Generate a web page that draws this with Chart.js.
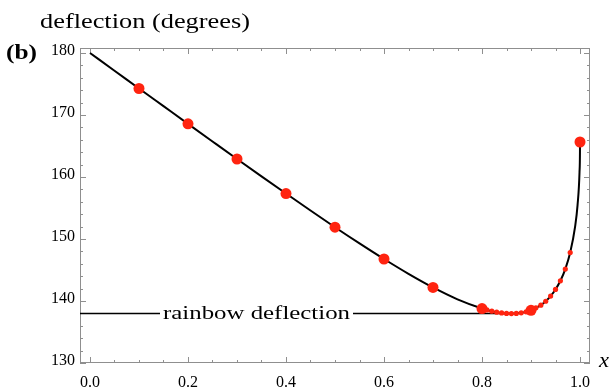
<!DOCTYPE html>
<html>
<head>
<meta charset="utf-8">
<script src="https://cdn.jsdelivr.net/npm/chart.js@4.4.1/dist/chart.umd.min.js"></script>
<style>
  html, body { margin: 0; padding: 0; background: #ffffff; }
  #wrap { width: 610px; height: 390px; }
</style>
</head>
<body>
<div id="wrap"><canvas id="chart" width="610" height="390"></canvas></div>
<script>
// deflection curve
const curveX = [0, 0.05, 0.1, 0.15, 0.2, 0.25, 0.3, 0.35, 0.4, 0.45, 0.5, 0.55, 0.6, 0.65, 0.7, 0.75,
  0.8, 0.81, 0.82, 0.83, 0.84, 0.85, 0.86, 0.87, 0.88, 0.89, 0.9, 0.91, 0.92, 0.93, 0.94, 0.95,
  0.96, 0.97, 0.98, 0.99, 0.995, 0.999, 0.9999, 1.0];
const curveY = [180, 177.14, 174.27, 171.42, 168.57, 165.73, 162.90, 160.10, 157.33, 154.59, 151.90, 149.29, 146.77, 144.38, 142.18, 140.26,
  138.78, 138.56, 138.36, 138.20, 138.08, 138.00, 137.97, 138.00, 138.09, 138.25, 138.50, 138.90, 139.33, 139.96, 140.79, 141.86,
  143.26, 145.15, 147.81, 152.00, 155.47, 160.77, 164.04, 165.64];

// big red dots
const bigX = [0.1, 0.2, 0.3, 0.4, 0.5, 0.6, 0.7, 0.8, 0.9, 1.0];
const bigY = [174.27, 168.57, 162.90, 157.33, 151.90, 146.77, 142.18, 138.78, 138.50, 165.64];

// small red dots near the minimum
const smallX = [0.81, 0.82, 0.83, 0.84, 0.85, 0.86, 0.87, 0.88, 0.89, 0.91, 0.92, 0.93, 0.94, 0.95, 0.96, 0.97, 0.98];
const smallY = [138.56, 138.36, 138.20, 138.08, 138.00, 137.97, 138.00, 138.09, 138.25, 138.90, 139.33, 139.96, 140.79, 141.86, 143.26, 145.15, 147.81];

// rainbow deflection line
const rainbowX = [-0.0204, 0.86];
const rainbowY = [137.97, 137.97];

const xTicks = [0, 0.2, 0.4, 0.6, 0.8, 1.0];
const yTicks = [130, 140, 150, 160, 170, 180];

const SERIF = "'Times New Roman', 'Liberation Serif', 'DejaVu Serif', serif";
const RED = "#ff2410";
const FRAME = "#8f8f8f";

function zip(xs, ys) {
  return xs.map((x, i) => ({ x: x, y: ys[i] }));
}

// text squeezed/stretched to a given width
function stretchText(ctx, text, font, x, y, width) {
  ctx.save();
  ctx.font = font;
  ctx.textAlign = "left";
  ctx.textBaseline = "alphabetic";
  const w = ctx.measureText(text).width;
  ctx.translate(x, y);
  ctx.scale(width / w, 1);
  ctx.fillText(text, 0, 0);
  ctx.restore();
}

const framePlugin = {
  id: "frame",
  beforeDatasetsDraw(chart) {
    const { ctx, chartArea: a, scales: { x, y } } = chart;
    ctx.save();
    ctx.strokeStyle = FRAME;
    ctx.lineWidth = 1;
    ctx.strokeRect(a.left + 0.5, a.top + 0.5, a.right - a.left - 1, a.bottom - a.top - 1);
    ctx.beginPath();
    // x ticks, every 0.05, longer on the labelled ones
    for (let i = 0; i <= 20; i++) {
      const v = i * 0.05;
      const px = Math.round(x.getPixelForValue(v)) + 0.5;
      const len = i % 4 === 0 ? 6 : 3;
      ctx.moveTo(px, a.bottom);
      ctx.lineTo(px, a.bottom - len);
      ctx.moveTo(px, a.top);
      ctx.lineTo(px, a.top + len);
    }
    // y ticks, every 2
    for (let v = 130; v <= 180; v += 2) {
      const py = Math.round(y.getPixelForValue(v)) + 0.5;
      const len = v % 10 === 0 ? 6 : 3;
      ctx.moveTo(a.left, py);
      ctx.lineTo(a.left + len, py);
      ctx.moveTo(a.right, py);
      ctx.lineTo(a.right - len, py);
    }
    ctx.stroke();
    ctx.restore();
  },
  afterDatasetsDraw(chart) {
    const { ctx, scales: { y } } = chart;
    ctx.save();
    // label sitting on the rainbow line
    const ly = y.getPixelForValue(rainbowY[0]);
    ctx.fillStyle = "#ffffff";
    ctx.fillRect(160, ly - 12, 193, 22);
    ctx.fillStyle = "#000000";
    stretchText(ctx, "rainbow deflection", "19px " + SERIF, 163, ly + 5, 187);
    ctx.restore();
  },
  afterDraw(chart) {
    const { ctx } = chart;
    ctx.save();
    ctx.fillStyle = "#000000";
    stretchText(ctx, "deflection (degrees)", "20px " + SERIF, 40, 28, 210);
    stretchText(ctx, "(b)", "bold 21px " + SERIF, 6, 59, 31);
    stretchText(ctx, "x", "italic 20px " + SERIF, 599, 367, 10);
    ctx.restore();
  }
};

const ctx = document.getElementById("chart").getContext("2d");

const chart = new Chart(ctx, {
  type: "scatter",
  data: {
    datasets: [
      {
        type: "scatter",
        data: zip(bigX, bigY),
        pointRadius: 5.5,
        pointBackgroundColor: RED,
        pointBorderWidth: 0,
        order: 1,
      },
      {
        type: "scatter",
        data: zip(smallX, smallY),
        pointRadius: 2.6,
        pointBackgroundColor: RED,
        pointBorderWidth: 0,
        order: 1,
      },
      {
        type: "line",
        data: zip(curveX, curveY),
        borderColor: "#000000",
        borderWidth: 2,
        pointRadius: 0,
        cubicInterpolationMode: "monotone",
        fill: false,
        order: 2,
      },
      {
        type: "line",
        data: zip(rainbowX, rainbowY),
        borderColor: "#000000",
        borderWidth: 1.5,
        pointRadius: 0,
        fill: false,
        order: 3,
      },
    ],
  },
  options: {
    responsive: false,
    animation: false,
    clip: false,
    layout: { padding: { left: 0, right: 20, top: 48, bottom: 0 } },
    plugins: {
      legend: { display: false },
      tooltip: { enabled: false },
    },
    scales: {
      x: {
        type: "linear",
        min: -0.0204,
        max: 1.0204,
        grid: { display: false, drawTicks: false },
        border: { display: false },
        afterBuildTicks: (scale) => {
          scale.ticks = xTicks.map((v) => ({ value: v }));
        },
        afterFit: (scale) => {
          scale.height = 27;
        },
        ticks: {
          color: "#000000",
          padding: 10,
          maxRotation: 0,
          font: { family: SERIF, size: 16 },
          callback: (v) => Number(v).toFixed(1),
        },
      },
      y: {
        type: "linear",
        min: 130,
        max: 180.8,
        grid: { display: false, drawTicks: false },
        border: { display: false },
        afterBuildTicks: (scale) => {
          scale.ticks = yTicks.map((v) => ({ value: v }));
        },
        afterFit: (scale) => {
          scale.width = 80;
        },
        ticks: {
          color: "#000000",
          padding: 5,
          labelOffset: -2,
          font: { family: SERIF, size: 16 },
          callback: (v) => String(v),
        },
      },
    },
  },
  plugins: [framePlugin],
});
</script>
</body>
</html>
